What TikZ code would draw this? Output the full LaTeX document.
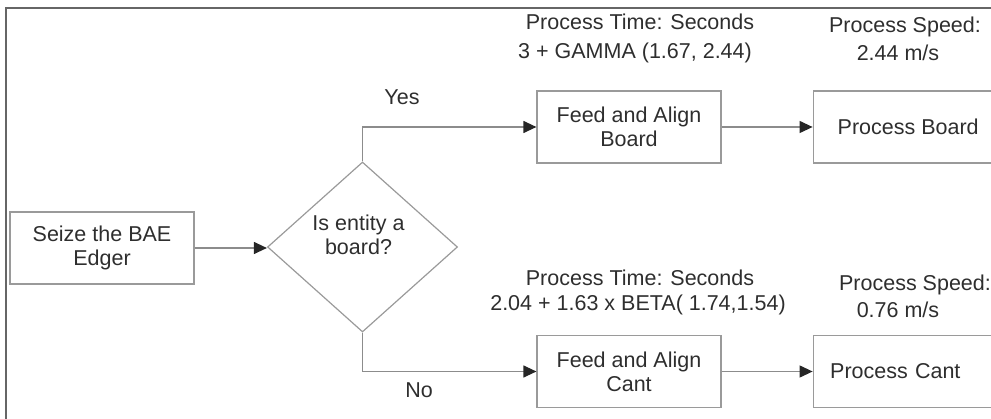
\documentclass[tikz,border=0pt]{standalone}
\usepackage{fontspec}
\setmainfont{Liberation Sans}
\usepackage{xcolor}
\usetikzlibrary{shapes.geometric, arrows.meta, positioning, calc}
\definecolor{boxgray}{HTML}{9A9A9A}
\definecolor{linegray}{HTML}{8C8C8C}
\definecolor{framegray}{HTML}{666666}
\definecolor{textgray}{HTML}{2E2E2E}
\tikzstyle{process} = [rectangle, minimum width=184pt, minimum height=72pt, text centered, align=center, draw=boxgray, line width=1.2pt, inner sep=0pt]
\tikzstyle{decision} = [diamond, minimum width=190pt, minimum height=170pt, draw=boxgray, line width=1.2pt, inner sep=0pt]
\tikzstyle{note} = [inner sep=0pt, text=textgray]
\tikzstyle{arrow} = [line width=1.2pt, draw=linegray, -{Triangle[length=13pt, width=12pt, color=black!85]}]

\begin{document}
\begin{tikzpicture}[x=1pt, y=-1pt, every node/.style={font=\fontsize{21.5}{24}\selectfont, text=textgray}]
    \useasboundingbox (0,0) rectangle (991,419);
    \clip (0,0) rectangle (991,419);

    % Frame
    \draw[framegray, line width=2.5pt] (6,430) -- (6,8) -- (1000,8);

    % Seize
    \node (seize) [process] at (102,248) {Seize the BAE\\Edger};

    % Decision
    \node (dec) [decision] at (362.5,247) {};
    \node (dectext) [note] at ($(dec.center)+(-4,-12)$) [align=center] {Is entity a\\board?};

    % Board branch
    \node (feedb) [process] at (629,127) {Feed and Align\\Board};
    \node (procb) [process, minimum width=190pt, right=91pt of feedb] {Process Board};

    % Cant branch
    \node (feedc) [process] at (629,371.5) {Feed and Align\\Cant};
    \node (procc) [process, right=91pt of feedc, align=left, text width=156pt, inner xsep=17pt] {Process Cant};

    % Labels
    \node (yes) [note] at (402,97) {Yes};
    \node (no) [note] at (419,390) {No};

    % Process time and speed
    \node (timeb) [note] at (640,22) {Process Time: Seconds};
    \node (distb) [note] at (635,53) {3 + GAMMA (1.67, 2.44)};
    \node (speedb) [note] at (905,27) {Process Speed:};
    \node (valb) [note] at (898,53) {2.44 m/s};
    \node (timec) [note] at (640,278) {Process Time: Seconds};
    \node (distc) [note] at (638,305) {2.04 + 1.63 x BETA( 1.74,1.54)};
    \node (speedc) [note] at (915,285) {Process Speed:};
    \node (valc) [note] at (898,310) {0.76 m/s};

    % Arrows
    \draw [arrow] (seize.east) -- (seize.east -| dec.west);
    \draw [arrow] (dec.north) |- (feedb.west);
    \draw [arrow] (dec.south) |- (feedc.west);
    \draw [arrow] (feedb) -- (procb);
    \draw [arrow] (feedc) -- (procc);
\end{tikzpicture}
\end{document}
